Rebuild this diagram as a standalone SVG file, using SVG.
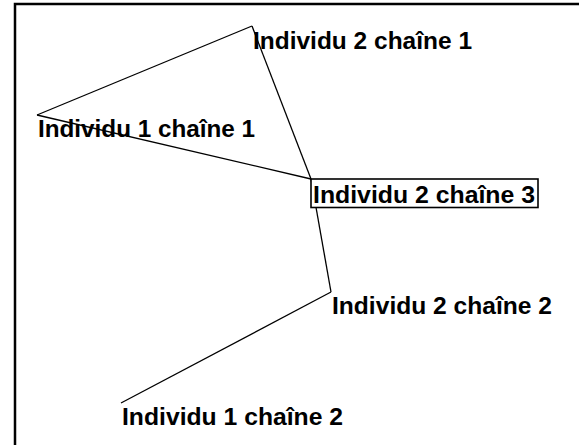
<svg xmlns="http://www.w3.org/2000/svg" width="588" height="445" viewBox="0 0 588 445">
<style>
.lbl{font-family:"Liberation Sans",Arial,sans-serif;font-weight:bold;font-size:24px;fill:#000}
.edge{stroke:#000;stroke-width:1.3;fill:none}
.frame{stroke:#000;stroke-width:2.5;fill:none}
</style>
<rect width="588" height="445" fill="#fff"/>
<path class="frame" d="M15,445 V4 H579"/>
<g id="connectors">
<line class="edge" x1="37" y1="115" x2="252" y2="26"/>
<line class="edge" x1="252" y1="26" x2="311" y2="179"/>
<line class="edge" x1="37" y1="115" x2="311" y2="179"/>
<line class="edge" x1="311" y1="179" x2="331" y2="292"/>
<line class="edge" x1="331" y1="292" x2="121" y2="403"/>
</g>
<g id="n-i2c1"><text class="lbl" x="253" y="49" textLength="219" lengthAdjust="spacingAndGlyphs">Individu 2 chaîne 1</text></g>
<g id="n-i1c1"><text class="lbl" x="38" y="137" textLength="217" lengthAdjust="spacingAndGlyphs">Individu 1 chaîne 1</text></g>
<g id="n-i2c3"><rect x="311" y="179" width="227" height="28.5" fill="#fff" stroke="#000" stroke-width="1.6"/><text class="lbl" x="313" y="202.5" textLength="222" lengthAdjust="spacingAndGlyphs">Individu 2 chaîne 3</text></g>
<g id="n-i2c2"><text class="lbl" x="332" y="314" textLength="220" lengthAdjust="spacingAndGlyphs">Individu 2 chaîne 2</text></g>
<g id="n-i1c2"><text class="lbl" x="122" y="425" textLength="221" lengthAdjust="spacingAndGlyphs">Individu 1 chaîne 2</text></g>
</svg>
